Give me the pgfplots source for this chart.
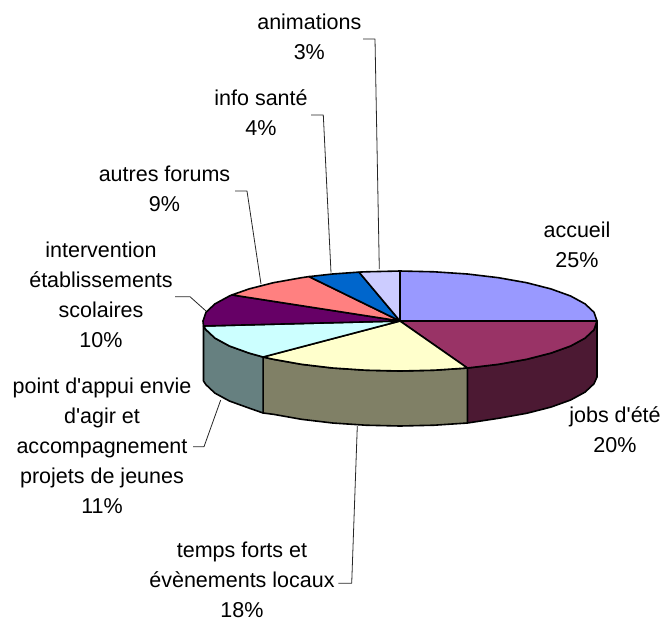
\documentclass[border=0pt]{standalone}
\usepackage{fontspec}
\usepackage{pgfplots}
\pgfplotsset{compat=1.18}
\newfontfamily\labfont{Liberation Sans}
\definecolor{cAccueil}{HTML}{9999FF}
\definecolor{cJobs}{HTML}{993366}
\definecolor{cJobsS}{HTML}{4C1933}
\definecolor{cTemps}{HTML}{FFFFCC}
\definecolor{cTempsS}{HTML}{808066}
\definecolor{cPoint}{HTML}{CCFFFF}
\definecolor{cPointS}{HTML}{668080}
\definecolor{cInter}{HTML}{660066}
\definecolor{cAutres}{HTML}{FF8080}
\definecolor{cInfo}{HTML}{0066CC}
\definecolor{cAnim}{HTML}{CCCCFF}
\tikzset{
  slice/.style={draw=black, line width=1.6pt},
  leader/.style={draw=black!85, line width=0.8pt, sharp plot},
  lab/.style={font=\labfont\fontsize{21.5}{30}\selectfont, text=black, align=center, anchor=base, inner sep=0pt},
}
\begin{document}
\begin{tikzpicture}
\begin{axis}[
  width=663pt, height=622pt, scale only axis,
  xmin=0, xmax=663, ymin=0, ymax=622, y dir=reverse,
  axis lines=none, clip=false,
  every axis plot/.append style={no markers, line join=round},
]
\path[use as bounding box] (axis cs:0,0) rectangle (axis cs:663,622);

% outer walls of the disc
\addplot[slice, fill=cJobsS] coordinates {
  (597,321) (594,329.7) (585.1,338.1) (570.6,346) (550.9,353.1) (526.6,359.3) (498.5,364.3) (467.4,368)
  (467.4,423) (498.5,418.3) (526.6,413.3) (550.9,407.1) (570.6,400) (585.1,392.1) (594,383.7) (597,377)
} -- cycle;
\addplot[slice, fill=cTempsS] coordinates {
  (467.4,368) (434.2,370.2) (400,371) (365.8,370.2) (332.6,368) (301.5,364.3) (273.4,359.3) (263.1,357)
  (263.1,413) (273.4,414.3) (301.5,419.3) (332.6,423) (365.8,425.2) (400,426) (434.2,425.2) (467.4,423)
} -- cycle;
\addplot[slice, fill=cPointS] coordinates {
  (263.1,357) (249.1,353.1) (229.4,346) (214.9,338.1) (206,329.7) (203.5,326)
  (203.5,381) (206,384.7) (214.9,393.1) (229.4,401) (249.1,408.1) (263.1,413)
} -- cycle;

% top face, one sector per category
\addplot[slice, fill=cAccueil] coordinates {
  (400,321) (400,271) (434.2,271.8) (467.4,274) (498.5,277.7) (526.6,282.7) (550.9,288.9)
  (570.6,296) (585.1,303.9) (594,312.3) (597,321)
} -- cycle;
\addplot[slice, fill=cJobs] coordinates {
  (400,321) (597,321) (594,329.7) (585.1,338.1) (570.6,346) (550.9,353.1) (526.6,359.3)
  (498.5,364.3) (467.4,368)
} -- cycle;
\addplot[slice, fill=cTemps] coordinates {
  (400,321) (467.4,368) (434.2,370.2) (400,371) (365.8,370.2) (332.6,368) (301.5,364.3)
  (273.4,359.3) (263.1,357)
} -- cycle;
\addplot[slice, fill=cPoint] coordinates {
  (400,321) (263.1,357) (249.1,353.1) (229.4,346) (214.9,338.1) (206,329.7) (203.5,326)
} -- cycle;
\addplot[slice, fill=cInter] coordinates {
  (400,321) (203.5,326) (203,321) (206,312.3) (214.9,303.9) (229.4,296) (232,294.9)
} -- cycle;
\addplot[slice, fill=cAutres] coordinates {
  (400,321) (232,294.9) (249.1,288.9) (273.4,282.7) (301.5,277.7) (309,276.6)
} -- cycle;
\addplot[slice, fill=cInfo] coordinates {
  (400,321) (309,276.6) (332.6,274) (359,272.1)
} -- cycle;
\addplot[slice, fill=cAnim] coordinates {
  (400,321) (359,272.1) (365.8,271.8) (400,271)
} -- cycle;

% leader lines
\addplot[leader] coordinates {(363,39) (375,39) (379.3,269)};
\addplot[leader] coordinates {(311,115) (323.3,115) (331,272.7)};
\addplot[leader] coordinates {(235,191) (247,191) (261,284)};
\addplot[leader] coordinates {(175,296.7) (190,296.7) (206,311)};
\addplot[leader] coordinates {(193,446.7) (204,446.7) (220.7,400)};
\addplot[leader] coordinates {(338.3,583.3) (351.7,583.3) (357.3,426)};

% category labels, placed by the baseline of their last line
\node[lab] at (axis cs:309.3,59) {animations\\3\%};
\node[lab] at (axis cs:261,135) {info santé\\4\%};
\node[lab] at (axis cs:164.5,211) {autres forums\\9\%};
\node[lab] at (axis cs:101,347) {intervention\\établissements\\scolaires\\10\%};
\node[lab] at (axis cs:102,513) {point d'appui envie\\d'agir et\\accompagnement\\projets de jeunes\\11\%};
\node[lab] at (axis cs:242,617.5) {temps forts et\\évènements locaux\\18\%};
\node[lab] at (axis cs:577,267) {accueil\\25\%};
\node[lab] at (axis cs:615,452) {jobs d'été\\20\%};
\end{axis}
\end{tikzpicture}
\end{document}
